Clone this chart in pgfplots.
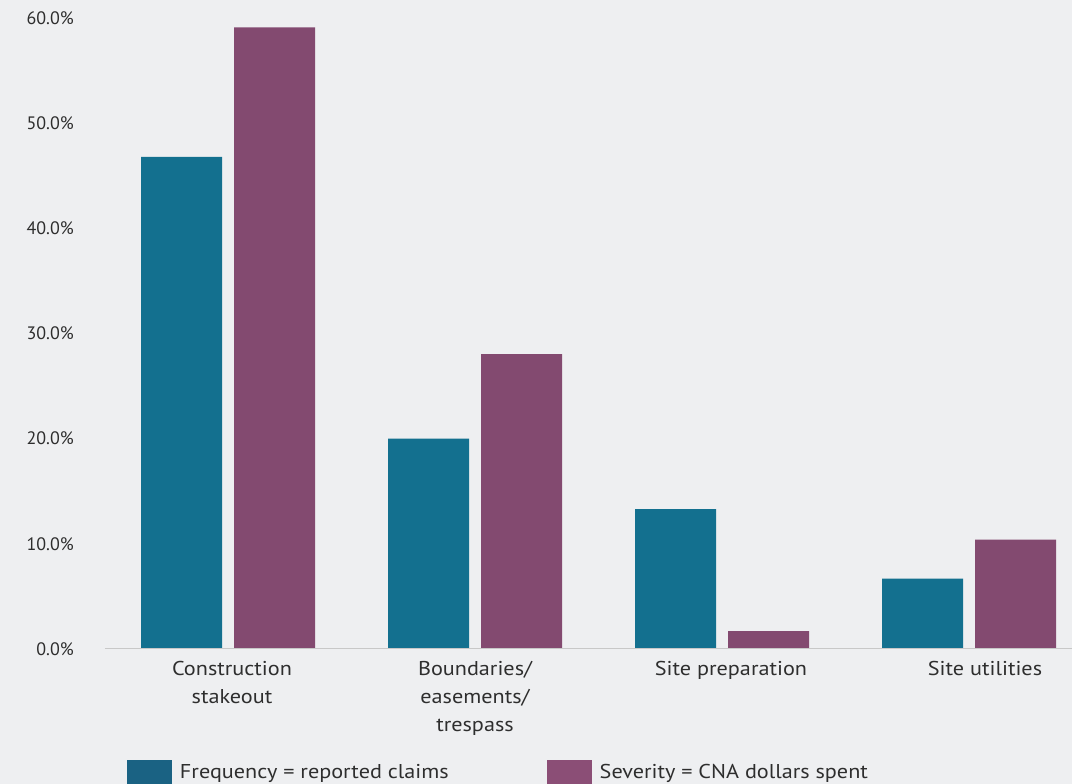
\documentclass[border=0pt]{standalone}
\usepackage{pgfplots}
\pgfplotsset{compat=1.18}
\usepackage{fontspec}
\setmainfont[FakeStretch=1.11]{PT Sans}
\newfontfamily\tickfont{PT Sans}
\definecolor{bg}{HTML}{EEEFF1}
\definecolor{teal1}{HTML}{13708F}
\definecolor{purp1}{HTML}{834A70}
\definecolor{tealL}{HTML}{1A6283}
\definecolor{purpL}{HTML}{8B4E76}
\definecolor{txt}{HTML}{2E2E2E}
\definecolor{base}{HTML}{C8C8C8}
\begin{document}
\begin{tikzpicture}[x=1pt,y=1pt]
\fill[bg] (-105,-135) rectangle (967,649);
\useasboundingbox (-105,-135) rectangle (967,649);
\begin{axis}[
  at={(0,0)}, anchor=south west,
  scale only axis, width=967pt, height=631pt,
  ymin=0, ymax=60, xmin=-0.498, xmax=3.417,
  axis line style={draw=none}, major tick length=0pt,
  ytick={0,10,...,60}, xtick={0,1,2,3},
  /pgf/number format/assume math mode=true,
  yticklabel={\pgfmathprintnumber[fixed,fixed zerofill,precision=1]{\tick}\%},
  yticklabel style={font=\tickfont\fontsize{18}{20}\selectfont, text=txt, anchor=east, inner sep=0pt, xshift=-31pt},
  xticklabels={\hspace*{8pt}Construction\\\hspace*{8pt}stakeout, Boundaries/\\easements/\\trespass, \hspace*{18pt}Site preparation, \hspace*{32pt}Site utilities},
  xticklabel style={align=center, font=\fontsize{20}{28}\selectfont, text=txt, anchor=north, inner sep=0pt, yshift=-12pt},
  legend columns=2,
  legend style={at={(axis description cs:0.02275,-0.1949)}, anchor=west, draw=none, fill=none,
    inner sep=0pt, outer sep=0pt, font=\fontsize{20}{24}\selectfont, text=txt,
    nodes={inner sep=0pt},
    /tikz/every odd column/.append style={column sep=8pt},
    /tikz/every even column/.append style={column sep=98pt}},
  legend image code/.code={\fill[#1] (0pt,-12pt) rectangle (45pt,12pt);},
]
\addplot[ybar, bar width=81pt, bar shift=-46.5pt, fill=teal1, draw=none, forget plot]
  coordinates {(0,46.8) (1,20.0) (2,13.3) (3,6.7)};
\addplot[ybar, bar width=81pt, bar shift=46.5pt, fill=purp1, draw=none, forget plot]
  coordinates {(0,59.1) (1,28.05) (2,1.7) (3,10.4)};
\draw[base, line width=1.5pt] (rel axis cs:0,0) -- (rel axis cs:1,0);
\addlegendimage{fill=tealL, draw=none}
\addlegendentry{Frequency = reported claims}
\addlegendimage{fill=purpL, draw=none}
\addlegendentry{Severity = CNA dollars spent}
\end{axis}
\end{tikzpicture}
\end{document}
